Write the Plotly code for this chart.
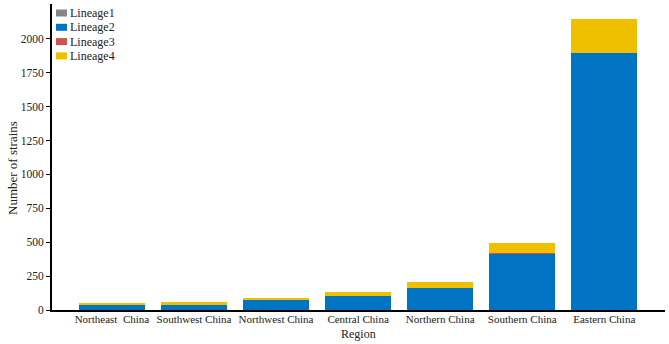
import plotly.graph_objects as go

regions = ["Northeast  China", "Southwest China", "Northwest China", "Central China",
           "Northern China", "Southern China", "Eastern China"]
lineage1 = [0, 0, 0, 1, 1, 1, 2]
lineage2 = [42, 37, 74, 103, 160, 418, 1895]
lineage3 = [0, 0, 0, 0, 0, 1, 1]
lineage4 = [10, 22, 12, 32, 49, 76, 245]

names = ["Lineage1", "Lineage2", "Lineage3", "Lineage4"]
colors = ["#868686", "#0073C2", "#CD534C", "#EFC000"]
series = [lineage1, lineage2, lineage3, lineage4]

W, H = 669, 344
ML, MR, MT, MB = 52, 4, 4, 34
PW, PH = W - ML - MR, H - MT - MB

fig = go.Figure()
for n, c, s in zip(names, colors, series):
    fig.add_trace(go.Bar(x=regions, y=s, name=n, marker=dict(color=c, line=dict(width=0)),
                         width=0.8, showlegend=False))

font = "Liberation Serif"


def px(x):
    return (x - ML) / PW


def py(y):
    return 1 - (y - MT) / PH


shapes = []
annotations = []
for i, (n, c) in enumerate(zip(names, colors)):
    yc = 13 + 14.3 * i
    shapes.append(dict(type="rect", xref="paper", yref="paper",
                       x0=px(56), x1=px(67), y0=py(yc + 3.5), y1=py(yc - 3.5),
                       fillcolor=c, line=dict(width=0)))
    annotations.append(dict(text=n, xref="paper", yref="paper", x=px(68), y=py(yc),
                            xanchor="left", yanchor="middle", showarrow=False,
                            font=dict(family=font, size=12, color="#222")))

annotations.append(dict(text="Number of strains", xref="paper", yref="paper",
                        x=px(12), y=py(168), textangle=-90, showarrow=False,
                        xanchor="center", yanchor="middle",
                        font=dict(family=font, size=13, color="#222")))
annotations.append(dict(text="Region", xref="paper", yref="paper",
                        x=px(358), y=py(334), showarrow=False,
                        xanchor="center", yanchor="middle",
                        font=dict(family=font, size=12, color="#222")))

fig.update_layout(
    width=W, height=H,
    barmode="stack",
    plot_bgcolor="white", paper_bgcolor="white",
    margin=dict(l=ML, r=MR, t=MT, b=MB),
    font=dict(family=font, size=12, color="#222"),
    showlegend=False,
    shapes=shapes, annotations=annotations,
    xaxis=dict(range=[-0.73, 6.74], showline=True, linecolor="black", linewidth=2,
               ticks="", showgrid=False, tickfont=dict(family=font, size=11),
               automargin=False, tickangle=0, ticklabelstandoff=-2),
    yaxis=dict(range=[0, 2257], showline=True, linecolor="black", linewidth=2,
               ticks="outside", ticklen=4, tickcolor="black", showgrid=False, automargin=False,
               zeroline=False, tickvals=[0, 250, 500, 750, 1000, 1250, 1500, 1750, 2000],
               tickfont=dict(family=font, size=11.5)),
)
fig.write_html("out.html", config={"displayModeBar": False},
               post_script="document.body.style.margin='0';document.body.style.overflow='hidden';")
